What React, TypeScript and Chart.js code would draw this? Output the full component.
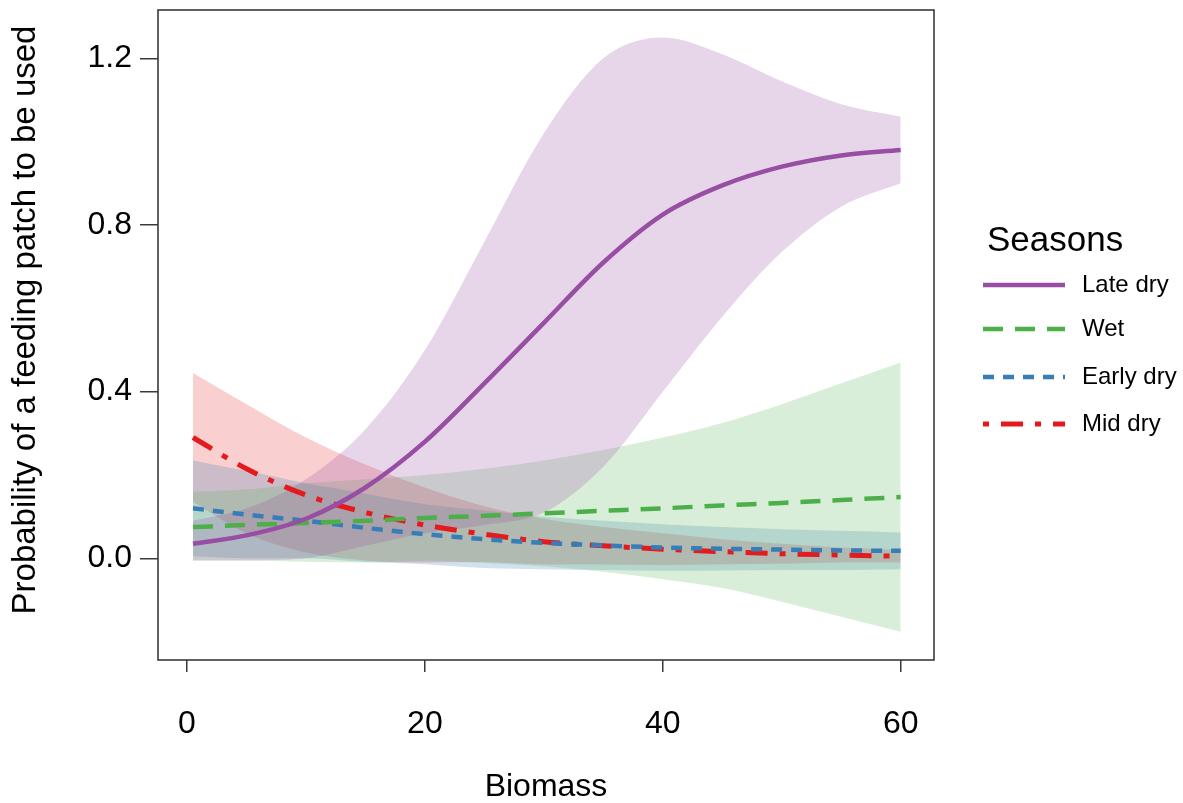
import React, { useEffect, useRef } from "react";
import { Chart, registerables } from "chart.js";

Chart.register(...registerables);

// ---- data ----
const biomass = [0.5, 5, 10, 15, 20, 25, 30, 35, 40, 45, 50, 55, 60];

const lateDry = [0.035, 0.055, 0.095, 0.17, 0.28, 0.42, 0.565, 0.71, 0.825, 0.895, 0.94, 0.967, 0.98];
const lateDryUpper = [0.09, 0.12, 0.19, 0.31, 0.50, 0.76, 1.02, 1.20, 1.25, 1.21, 1.145, 1.09, 1.06];
const lateDryLower = [-0.005, -0.005, 0.0, 0.03, 0.06, 0.08, 0.11, 0.22, 0.40, 0.58, 0.735, 0.844, 0.90];

const wet = [0.075, 0.08, 0.085, 0.09, 0.097, 0.102, 0.108, 0.114, 0.12, 0.127, 0.133, 0.14, 0.147];
const wetUpper = [0.16, 0.165, 0.18, 0.19, 0.20, 0.215, 0.235, 0.26, 0.29, 0.325, 0.37, 0.42, 0.47];
const wetLower = [-0.005, -0.005, -0.008, -0.01, -0.006, -0.011, -0.019, -0.032, -0.05, -0.071, -0.104, -0.14, -0.176];

const earlyDry = [0.12, 0.105, 0.09, 0.073, 0.058, 0.046, 0.037, 0.031, 0.026, 0.023, 0.021, 0.019, 0.018];
const earlyDryUpper = [0.235, 0.21, 0.18, 0.155, 0.13, 0.115, 0.10, 0.09, 0.082, 0.075, 0.07, 0.066, 0.062];
const earlyDryLower = [0.005, 0.0, 0.0, -0.009, -0.014, -0.023, -0.026, -0.028, -0.03, -0.029, -0.028, -0.028, -0.026];

const midDry = [0.29, 0.215, 0.152, 0.11, 0.08, 0.058, 0.04, 0.03, 0.022, 0.016, 0.011, 0.008, 0.005];
const midDryUpper = [0.445, 0.37, 0.29, 0.225, 0.17, 0.125, 0.095, 0.075, 0.06, 0.046, 0.035, 0.026, 0.02];
const midDryLower = [0.135, 0.06, 0.014, -0.005, -0.01, -0.009, -0.015, -0.015, -0.016, -0.014, -0.013, -0.01, -0.01];

const seasonLabels = ["Late dry", "Wet", "Early dry", "Mid dry"];
const xTickValues = [0, 20, 40, 60];
const yTickValues = [0, 0.4, 0.8, 1.2];

const FONT = "'Liberation Sans', Arial, Helvetica, sans-serif";

const styles = [
  { color: "#984EA3", fill: "rgba(152,78,163,0.23)", dash: [] as number[], width: 4.5, svgDash: "" },
  { color: "#4DAF4A", fill: "rgba(77,175,74,0.21)", dash: [20, 12], width: 4.5, svgDash: "20 12" },
  { color: "#377EB8", fill: "rgba(55,126,184,0.23)", dash: [11, 9], width: 4.5, svgDash: "11 9" },
  { color: "#E41A1C", fill: "rgba(228,26,28,0.21)", dash: [22, 12, 6, 12], width: 5, svgDash: "6 12 22 12" },
];

const boxPlugin = {
  id: "plotBox",
  afterDraw(chart: any) {
    const { ctx, chartArea } = chart;
    const { left, top, right, bottom } = chartArea;
    ctx.save();
    ctx.strokeStyle = "#3a3a3a";
    ctx.lineWidth = 1.6;
    ctx.strokeRect(left, top, right - left, bottom - top);
    ctx.restore();
  },
};

export default function App() {
  const ref = useRef<HTMLCanvasElement>(null);

  useEffect(() => {
    if (!ref.current) return;
    const pts = (ys: number[]) => biomass.map((x, i) => ({ x, y: ys[i] }));
    const series = [
      { line: lateDry, up: lateDryUpper, lo: lateDryLower },
      { line: wet, up: wetUpper, lo: wetLower },
      { line: earlyDry, up: earlyDryUpper, lo: earlyDryLower },
      { line: midDry, up: midDryUpper, lo: midDryLower },
    ];
    const datasets: any[] = [];
    series.forEach((s, k) => {
      datasets.push({
        label: seasonLabels[k] + " upper",
        data: pts(s.up),
        borderWidth: 0,
        pointRadius: 0,
        backgroundColor: styles[k].fill,
        fill: "+1",
        order: 2,
        cubicInterpolationMode: "monotone",
      });
      datasets.push({
        label: seasonLabels[k] + " lower",
        data: pts(s.lo),
        borderWidth: 0,
        pointRadius: 0,
        fill: false,
        order: 2,
        cubicInterpolationMode: "monotone",
      });
    });
    series.forEach((s, k) => {
      datasets.push({
        label: seasonLabels[k],
        data: pts(s.line),
        borderColor: styles[k].color,
        borderWidth: styles[k].width,
        borderDash: styles[k].dash,
        pointRadius: 0,
        fill: false,
        order: 1,
        cubicInterpolationMode: "monotone",
      });
    });

    const chart = new Chart(ref.current, {
      type: "line",
      data: { datasets },
      plugins: [boxPlugin],
      options: {
        animation: false,
        responsive: true,
        maintainAspectRatio: false,
        layout: { padding: { left: 0, top: 10, right: 249, bottom: 0 } },
        plugins: { legend: { display: false }, tooltip: { enabled: false } },
        scales: {
          x: {
            type: "linear",
            min: -2.44,
            max: 62.8,
            afterBuildTicks: (s: any) => {
              s.ticks = xTickValues.map((v) => ({ value: v }));
            },
            afterFit: (s: any) => {
              s.height = 143;
            },
            grid: { display: true, drawOnChartArea: false, drawTicks: true, tickLength: 12, color: "#3a3a3a", lineWidth: 1.5 },
            border: { display: false },
            ticks: {
              font: { family: FONT, size: 32, lineHeight: 1.2 },
              color: "#000",
              padding: 33,
              maxRotation: 0,
              autoSkip: false,
              callback: (v: any) => String(v),
            },
            title: { display: true, text: "Biomass", font: { family: FONT, size: 32, lineHeight: 1 }, color: "#000", padding: 0 },
          },
          y: {
            type: "linear",
            min: -0.244,
            max: 1.316,
            afterBuildTicks: (s: any) => {
              s.ticks = yTickValues.map((v) => ({ value: v }));
            },
            afterFit: (s: any) => {
              s.width = 158;
            },
            grid: { display: true, drawOnChartArea: false, drawTicks: true, tickLength: 18, color: "#3a3a3a", lineWidth: 1.5 },
            border: { display: false },
            ticks: {
              font: { family: FONT, size: 32, lineHeight: 0.03 },
              color: "#000",
              padding: 8,
              autoSkip: false,
              callback: (v: any) => Number(v).toFixed(1),
            },
            title: { display: false },
          },
        },
      } as any,
    });
    return () => chart.destroy();
  }, []);

  const legendLineY = [285, 329, 377, 424];

  return (
    <div style={{ position: "absolute", left: 0, top: 0, width: 1183, height: 803, background: "#fff", overflow: "hidden" }}>
      <div style={{ position: "absolute", left: 0, top: 0, width: 1183, height: 803 }}>
        <canvas ref={ref} />
      </div>
      <div
        style={{
          position: "absolute",
          left: 23,
          top: 320,
          width: 0,
          height: 0,
        }}
      >
        <div
          style={{
            position: "absolute",
            left: 0,
            top: 0,
            transform: "translate(-50%, -50%) rotate(-90deg)",
            fontFamily: FONT,
            fontSize: 33,
            lineHeight: "33px",
            color: "#000",
            whiteSpace: "nowrap",
          }}
        >
          Probability of a feeding patch to be used
        </div>
      </div>
      <svg width={1183} height={803} style={{ position: "absolute", left: 0, top: 0, pointerEvents: "none" }}>
        {styles.map((s, k) => (
          <line
            key={k}
            x1={983}
            x2={1065}
            y1={legendLineY[k]}
            y2={legendLineY[k]}
            stroke={s.color}
            strokeWidth={s.width}
            strokeDasharray={s.svgDash || undefined}
          />
        ))}
      </svg>
      <div
        style={{
          position: "absolute",
          left: 987,
          top: 221,
          fontFamily: FONT,
          fontSize: 35,
          lineHeight: "35px",
          color: "#000",
          whiteSpace: "nowrap",
        }}
      >
        Seasons
      </div>
      {seasonLabels.map((lab, k) => (
        <div
          key={lab}
          style={{
            position: "absolute",
            left: 1082,
            top: legendLineY[k] + 7 - 20.3,
            fontFamily: FONT,
            fontSize: 24,
            lineHeight: "24px",
            color: "#000",
            whiteSpace: "nowrap",
          }}
        >
          {lab}
        </div>
      ))}
    </div>
  );
}
